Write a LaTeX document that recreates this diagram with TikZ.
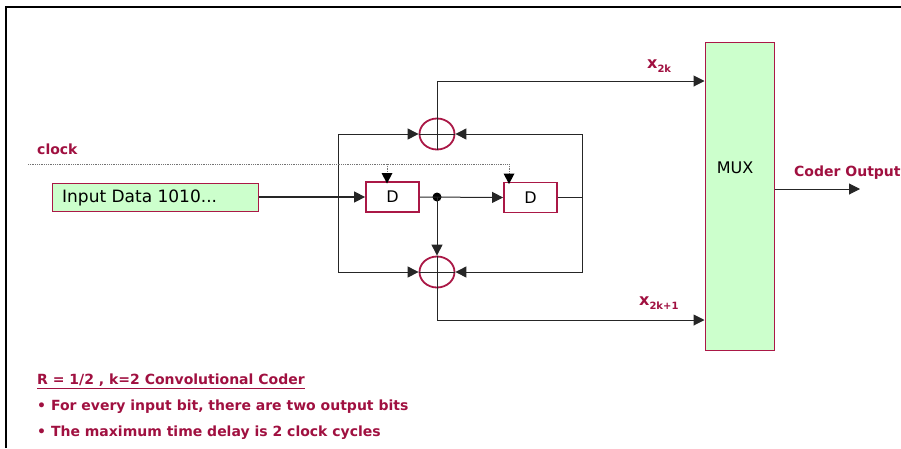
\documentclass[tikz,border=0pt]{standalone}
\usepackage{fontspec}
\setmainfont{DejaVu Sans}
\usetikzlibrary{arrows.meta,shapes.geometric}
\definecolor{maroon}{RGB}{160,16,64}
\definecolor{boxred}{RGB}{170,24,70}
\definecolor{lgreen}{RGB}{204,255,204}
\tikzset{
  wire/.style={draw=black!85,line width=1pt},
  arr/.style={wire,-{Triangle[length=11pt,width=11pt]}},
  xorc/.style={ellipse,draw=boxred,line width=1.8pt,minimum width=35pt,minimum height=31pt,inner sep=0pt},
  dbox/.style={draw=boxred,line width=1.8pt,fill=white,minimum width=53pt,minimum height=30pt,inner sep=0pt,font=\fontsize{16}{16}\selectfont},
  lbl/.style={text=maroon,font=\bfseries\fontsize{14}{16}\selectfont,inner sep=0pt},
  clk/.style={draw=black!55,line width=0.8pt,densely dotted},
}
\begin{document}
\begin{tikzpicture}[x=1pt,y=-1pt]
\useasboundingbox (0,0) rectangle (901,448);
\draw[line width=2.5pt] (6,448) -- (6,7) -- (901,7);
% nodes
\node[draw=boxred,line width=1pt,fill=lgreen,minimum width=69pt,minimum height=308pt,inner sep=0pt] (mux) at (739.5,196) {};
\node[font=\fontsize{16}{16}\selectfont] (muxt) at (735,168) {MUX};
\node[draw=boxred,line width=1pt,fill=lgreen,minimum width=206pt,minimum height=28pt,inner sep=0pt] (inp) at (155,197) {};
\node[anchor=west,font=\fontsize{17}{17}\selectfont,inner sep=0pt] (inpt) at (62,198) {Input Data 1010...};
\node[dbox] (d1) at (392.5,197) {D};
\node[dbox] (d2) at (530.5,197.5) {D};
\node[xorc] (xa) at (437,134) {};
\node[xorc] (xb) at (437,272) {};
\fill (437,197) circle (4.5pt) coordinate (dot);
\coordinate (t1) at (437,81);
\coordinate (b1) at (437,320);
\coordinate (lx) at (338,197);
\coordinate (rx) at (582,197.5);
\coordinate (co) at (860,189);
\coordinate (ck) at (28,164);
% crosses
\draw[wire] (xa.west) -- (xa.east);
\draw[wire] (xb.west) -- (xb.east);
\draw[wire] (xb.north) -- (xb.south);
% outputs to mux
\draw[arr] (xa.south) -- (t1) -- (t1 -| mux.west);
\draw[arr] (xb.north) -- (b1) -- (b1 -| mux.west);
% input
\draw[arr,line width=1.4pt] (inp.east) -- (d1.west);
\draw[arr] (lx) |- (xa.west);
\draw[arr] (lx) |- (xb.west);
% D1 to D2
\draw[arr] (d1.east) -- (d2.west);
\draw[arr] (dot) -- (xb.north);
% D2 feedback
\draw[wire] (d2.east) -- (rx);
\draw[arr] (rx) |- (xa.east);
\draw[arr] (rx) |- (xb.east);
% mux output
\draw[arr] (mux.east |- co) -- (co);
% clock
\draw[clk] (ck) -- (509,164);
\draw[clk] (387,164) -- (387,174);
\draw[clk] (509,164) -- (509,174);
\fill[black] (387,183.5) -- (381.5,173) -- (392.5,173) -- cycle;
\fill[black] (509,184) -- (503.5,173.5) -- (514.5,173.5) -- cycle;
% labels
\node[lbl,anchor=west] (clkl) at (37,149) {clock};
\node[lbl,anchor=west] (x2k) at (647,66) {\fontsize{16}{16}\selectfont x\raisebox{-4pt}{\fontsize{10}{10}\selectfont 2k}};
\node[lbl,anchor=west] (x2k1) at (639,303) {\fontsize{16}{16}\selectfont x\raisebox{-4pt}{\fontsize{10}{10}\selectfont 2k+1}};
\node[lbl,anchor=west] (col) at (794,173) {Coder Output};
\node[lbl,anchor=west] (t1l) at (37,381) {\underline{R = 1/2 , k=2 Convolutional Coder}};
\node[lbl,anchor=west] (t2l) at (37,407) {• For every input bit, there are two output bits};
\node[lbl,anchor=west] (t3l) at (37,433) {• The maximum time delay is 2 clock cycles};
\end{tikzpicture}
\end{document}
